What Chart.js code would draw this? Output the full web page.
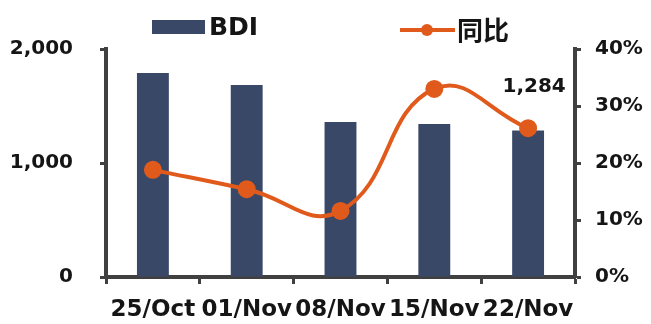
<!DOCTYPE html>
<html>
<head>
<meta charset="utf-8">
<script src="https://cdn.jsdelivr.net/npm/chart.js@4/dist/chart.umd.min.js"></script>
<style>
  html, body { margin: 0; padding: 0; background: #fff; }
  #wrap { width: 651px; height: 324px; }
</style>
</head>
<body>
<div id="wrap"><canvas id="bdiChart" width="651" height="324"></canvas></div>
<script>
// weekly BDI and its year-on-year change
const weeks = ['25/Oct', '01/Nov', '08/Nov', '15/Nov', '22/Nov'];
const bdiValues = [1789, 1684, 1360, 1342, 1284];
const yoyValues = [18.8, 15.4, 11.6, 33.0, 26.1];
const bdiTicks = [0, 1000, 2000];
const yoyTicks = [0, 10, 20, 30, 40];

const navy = '#3a4868';
const orange = '#e05a1c';
const axisGray = '#404040';
const textColor = '#151515';
const fontFamily = '"DejaVu Sans", "Noto Sans CJK SC", sans-serif';

// legend drawn by hand so the two entries can sit far apart
const legendPlugin = {
    id: 'spreadLegend',
    afterDraw(chart) {
        const ctx = chart.ctx;
        const line = chart.data.datasets[0];
        const bars = chart.data.datasets[1];
        ctx.save();
        ctx.textBaseline = 'middle';
        ctx.textAlign = 'left';

        ctx.fillStyle = bars.backgroundColor;
        ctx.fillRect(152, 20, 53, 14);
        ctx.fillStyle = textColor;
        ctx.font = 'bold 25px ' + fontFamily;
        ctx.fillText(bars.label, 209, 28);

        ctx.strokeStyle = line.borderColor;
        ctx.lineWidth = 4;
        ctx.beginPath();
        ctx.moveTo(400, 30);
        ctx.lineTo(455, 30);
        ctx.stroke();
        ctx.fillStyle = line.pointBackgroundColor;
        ctx.beginPath();
        ctx.arc(427, 30, 6, 0, Math.PI * 2);
        ctx.fill();
        ctx.fillStyle = textColor;
        ctx.font = 'bold 26px "Noto Sans CJK SC", ' + fontFamily;
        ctx.fillText(line.label, 457, 30);
        ctx.restore();
    }
};

// value label over the latest bar
const lastBarLabel = {
    id: 'lastBarLabel',
    afterDatasetsDraw(chart) {
        const meta = chart.getDatasetMeta(1);
        const i = bdiValues.length - 1;
        const bar = meta.data[i];
        const ctx = chart.ctx;
        ctx.save();
        ctx.font = 'bold 20px ' + fontFamily;
        ctx.fillStyle = textColor;
        ctx.textAlign = 'center';
        ctx.textBaseline = 'middle';
        ctx.fillText(bdiValues[i].toLocaleString('en-US'), bar.x + 6, bar.y - 44);
        ctx.restore();
    }
};

new Chart(document.getElementById('bdiChart').getContext('2d'), {
    data: {
        labels: weeks,
        datasets: [
            {
                type: 'line',
                label: '同比',
                data: yoyValues,
                yAxisID: 'y1',
                borderColor: orange,
                backgroundColor: orange,
                pointBackgroundColor: orange,
                pointBorderColor: orange,
                borderWidth: 4,
                pointRadius: 7,
                tension: 0.45,
                order: 0
            },
            {
                type: 'bar',
                label: 'BDI',
                data: bdiValues,
                yAxisID: 'y',
                backgroundColor: navy,
                categoryPercentage: 1,
                barPercentage: 0.34,
                order: 1
            }
        ]
    },
    options: {
        responsive: false,
        animation: false,
        layout: { padding: { top: 49, left: 0, right: 0, bottom: 0 } },
        plugins: {
            legend: { display: false },
            tooltip: { enabled: false }
        },
        scales: {
            x: {
                offset: true,
                grid: {
                    offset: true,
                    drawOnChartArea: false,
                    drawTicks: true,
                    tickLength: 7,
                    tickWidth: 3,
                    tickColor: axisGray
                },
                border: { display: true, color: axisGray, width: 4 },
                ticks: {
                    color: textColor,
                    font: { family: fontFamily, size: 23, weight: 'bold' },
                    padding: 12,
                    maxRotation: 0,
                    autoSkip: false
                },
                afterFit(scale) { scale.height = 47; }
            },
            y: {
                position: 'left',
                min: 0,
                max: 2000,
                afterBuildTicks(scale) { scale.ticks = bdiTicks.map(v => ({ value: v })); },
                grid: {
                    drawOnChartArea: false,
                    drawTicks: true,
                    tickLength: 6,
                    tickWidth: 3,
                    tickColor: axisGray
                },
                border: { display: true, color: axisGray, width: 4 },
                ticks: {
                    color: textColor,
                    font: { family: fontFamily, size: 20, weight: 'bold' },
                    padding: 27,
                    callback: v => v.toLocaleString('en-US')
                },
                afterFit(scale) { scale.width = 106; }
            },
            y1: {
                position: 'right',
                min: 0,
                max: 40,
                afterBuildTicks(scale) { scale.ticks = yoyTicks.map(v => ({ value: v })); },
                grid: {
                    drawOnChartArea: false,
                    drawTicks: true,
                    tickLength: 6,
                    tickWidth: 3,
                    tickColor: axisGray
                },
                border: { display: true, color: axisGray, width: 4 },
                ticks: {
                    color: textColor,
                    font: { family: fontFamily, size: 20, weight: 'bold' },
                    padding: 14,
                    callback: v => v + '%'
                },
                afterFit(scale) { scale.width = 76; }
            }
        }
    },
    plugins: [legendPlugin, lastBarLabel]
});
</script>
</body>
</html>
